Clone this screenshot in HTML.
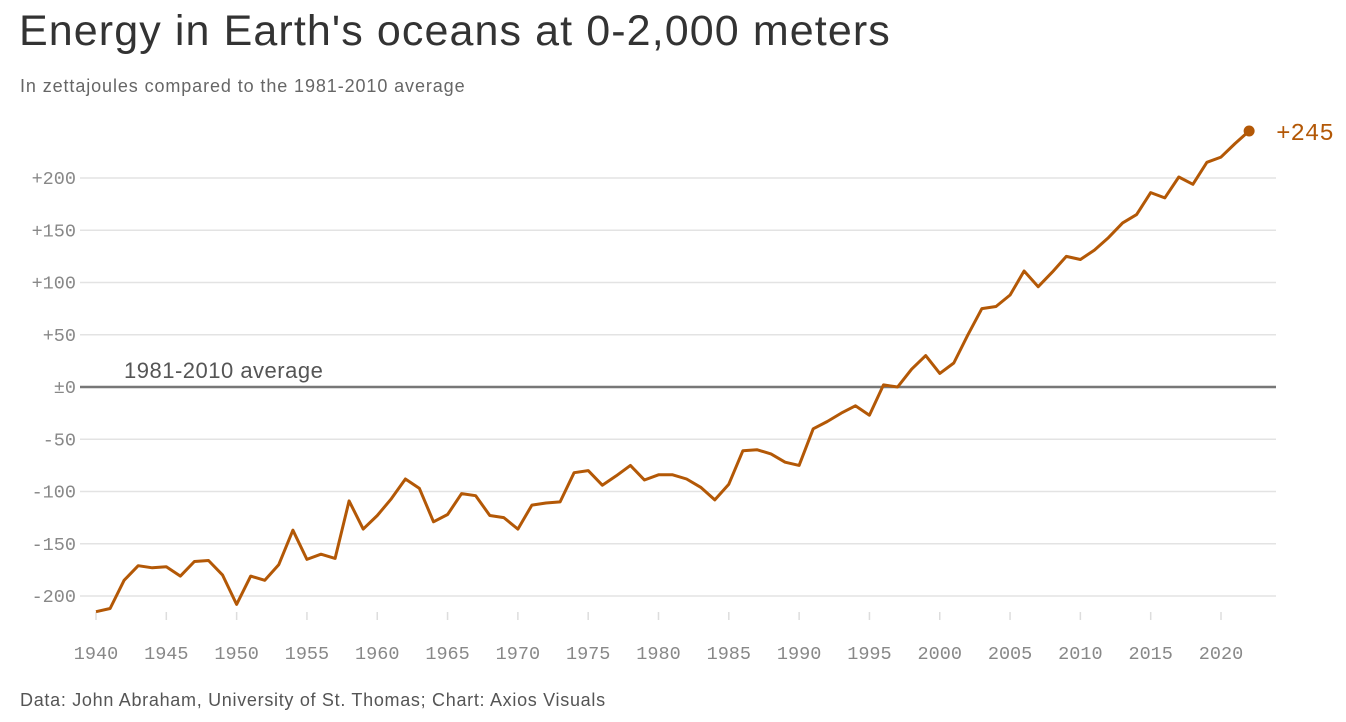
<!DOCTYPE html>
<html><head><meta charset="utf-8">
<style>
html,body{margin:0;padding:0;background:#fff;width:1346px;height:722px;overflow:hidden}
body{font-family:"Liberation Sans",sans-serif;position:relative}
#title{position:absolute;left:19px;top:7px;font-size:43px;color:#333;letter-spacing:1.1px;margin:0;font-weight:normal;white-space:nowrap}
#sub{position:absolute;left:20px;top:76px;font-size:18px;color:#666;letter-spacing:0.9px;white-space:nowrap}
#foot{position:absolute;left:20px;top:690px;font-size:18px;color:#555;letter-spacing:0.7px;white-space:nowrap}
svg{position:absolute;left:0;top:0}
</style></head>
<body>
<h1 id="title">Energy in Earth's oceans at 0-2,000 meters</h1>
<div id="sub">In zettajoules compared to the 1981-2010 average</div>
<div id="foot">Data: John Abraham, University of St. Thomas; Chart: Axios Visuals</div>
<svg id="chart" width="1346" height="722"></svg>
<script>
const years = [];
for (let y = 1940; y <= 2022; y++) years.push(y);
const values = [-215,-212,-185,-171,-173,-172,-181,-167,-166,-180,-208,-181,-185,-170,-137,-165,-160,-164,-109,-136,-123,-107,-88,-97,-129,-122,-102,-104,-123,-125,-136,-113,-111,-110,-82,-80,-94,-85,-75,-89,-84,-84,-88,-96,-108,-93,-61,-60,-64,-72,-75,-40,-33,-25,-18,-27,2,0,17,30,13,23,50,75,77,88,111,96,110,125,122,131,143,157,165,186,181,201,194,215,220,233,245];
const yTicks = [200,150,100,50,0,-50,-100,-150,-200];
const yTickLabels = ["+200","+150","+100","+50","±0","-50","-100","-150","-200"];
const xTicks = [1940,1945,1950,1955,1960,1965,1970,1975,1980,1985,1990,1995,2000,2005,2010,2015,2020];

const NS = "http://www.w3.org/2000/svg";
const svg = document.getElementById('chart');
const xs = v => 96 + (v - 1940) * (1221 - 96) / 80;
const ys = v => 387 - v * (387 - 178) / 200;
function mk(tag, attrs){const e=document.createElementNS(NS,tag);for(const k in attrs)e.setAttribute(k,attrs[k]);svg.appendChild(e);return e;}

yTicks.forEach((t,i)=>{
  const g = mk('line',{x1:80,x2:1276,y1:ys(t),y2:ys(t),stroke:t===0?'#777':'#e3e3e3','stroke-width':t===0?2.5:1.5});
  
  
  const l = mk('text',{x:76,y:ys(t)+6,'text-anchor':'end','font-family':'Liberation Mono, monospace','font-size':18.5,fill:'#888'});
  l.textContent = yTickLabels[i];
  
  
});
xTicks.forEach(t=>{
  const tk = mk('line',{x1:xs(t),x2:xs(t),y1:612,y2:620,stroke:'#ddd','stroke-width':1.5});
  
  
  const l = mk('text',{x:xs(t),y:659,'text-anchor':'middle','font-family':'Liberation Mono, monospace','font-size':18.5,fill:'#888'});
  l.textContent = t;
  
  
});
const al = mk('text',{x:124,y:378,'font-size':22,fill:'#555','font-family':'Liberation Sans, sans-serif','letter-spacing':0.5});
al.textContent = '1981-2010 average';



const pts = years.map((y,i)=>xs(y).toFixed(1)+','+ys(values[i]).toFixed(1)).join(' ');
const line = mk('polyline',{points:pts,fill:'none',stroke:'#b35806','stroke-width':3,'stroke-linejoin':'round'});


const n = years.length-1;
const dot = mk('circle',{cx:xs(years[n]),cy:ys(values[n]),r:5.5,fill:'#b35806'});


const vl = mk('text',{x:xs(years[n])+27,y:ys(values[n])+9,'font-family':'Liberation Mono, monospace','font-size':24,fill:'#b35806'});
vl.textContent = '+' + values[n];


</script>
</body></html>
